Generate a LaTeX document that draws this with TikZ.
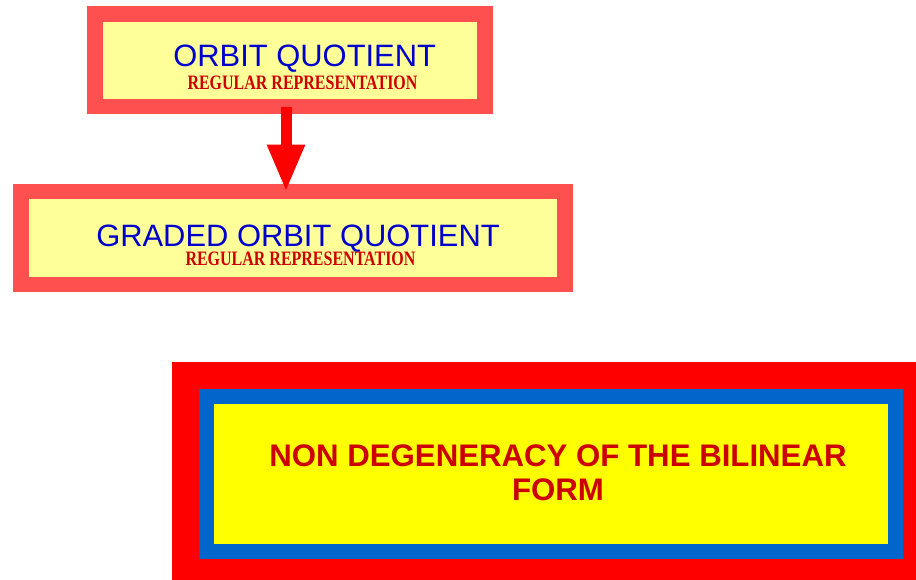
\documentclass[tikz,border=0pt]{standalone}
\usepackage{fontspec}
\usepackage{xcolor}
\usetikzlibrary{arrows.meta}
\setmainfont{Liberation Sans}
\newfontfamily\narrowserif{Liberation Serif}[FakeStretch=0.78]
\definecolor{boxred}{HTML}{FF5050}
\definecolor{paleyellow}{HTML}{FFFF99}
\definecolor{titleblue}{HTML}{0000CC}
\definecolor{subred}{HTML}{CC0000}
\definecolor{framered}{HTML}{FF0000}
\definecolor{frameblue}{HTML}{0066CC}
\definecolor{frameyellow}{HTML}{FFFF00}

\begin{document}
\begin{tikzpicture}[x=1pt,y=-1pt,
	quotbox/.style={draw=boxred,line width=15.5pt,fill=paleyellow,outer sep=0pt,inner sep=0pt},
	titletext/.style={text=titleblue,font=\fontsize{30.9}{36}\selectfont,inner sep=0pt,anchor=base,text depth=0pt},
	subtext/.style={text=subred,font=\narrowserif\bfseries\fontsize{20.5}{24}\selectfont,inner sep=0pt,anchor=base,text height=13.6pt}]
	\useasboundingbox (0,0) rectangle (916,579);
	\clip (0,0) rectangle (916,579);
	% the two quotient boxes
	\node[quotbox,minimum width=390.25pt,minimum height=92.5pt] (orbit) at (289.9,60.25) {};
	\node[titletext] (orbittitle) at (304.7,66) {ORBIT QUOTIENT};
	\node[subtext] (orbitsub) at (302.5,89.3) {REGULAR REPRESENTATION};
	\node[quotbox,minimum width=544pt,minimum height=92.75pt] (graded) at (293,238.1) {};
	\node[titletext] (gradedtitle) at (298,246) {GRADED ORBIT QUOTIENT};
	\node[subtext] (gradedsub) at (300.5,265) {REGULAR REPRESENTATION};
	\draw[-{Triangle[length=47pt,width=35pt]},line width=11pt,framered] ([xshift=-3.9pt]orbit.south) -- ([xshift=-7pt]graded.north);
	% framed statement
	\node[draw=frameblue,line width=15pt,fill=frameyellow,outer sep=0pt,inner sep=0pt,
		preaction={draw=framered,line width=69pt},
		minimum width=689pt,minimum height=155pt] (bilinear) at (550.5,473.85) {};
	\node[text=subred,font=\bfseries\fontsize{31.2}{34.5}\selectfont,align=center,inner sep=0pt] (bilineartext) at (558,473) {NON DEGENERACY OF THE BILINEAR\\FORM};
\end{tikzpicture}
\end{document}
